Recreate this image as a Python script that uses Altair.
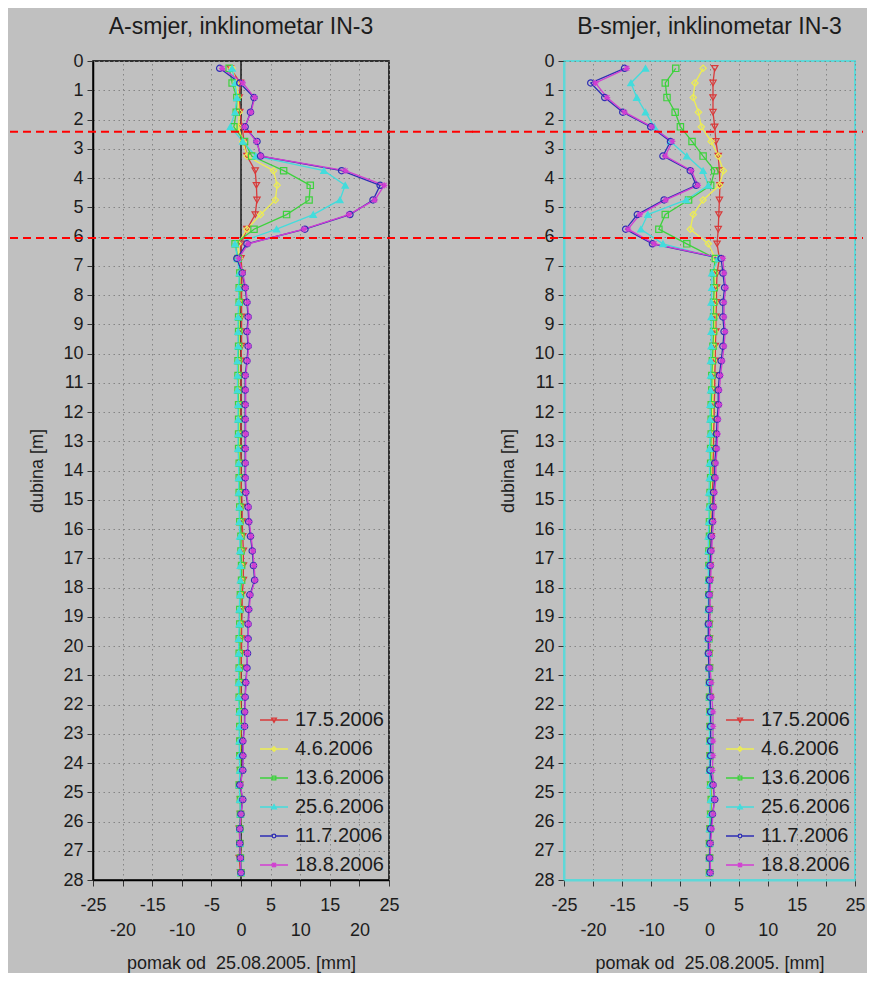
import altair as alt
import pandas as pd

# ---------------- data ----------------
DEPTH = [0.25, 0.75, 1.25, 1.75, 2.25, 2.75, 3.25, 3.75, 4.25, 4.75, 5.25, 5.75, 6.25, 6.75,
         7.25, 7.75, 8.25, 8.75, 9.25, 9.75, 10.25, 10.75, 11.25, 11.75, 12.25, 12.75, 13.25, 13.75,
         14.25, 14.75, 15.25, 15.75, 16.25, 16.75, 17.25, 17.75, 18.25, 18.75, 19.25, 19.75, 20.25, 20.75,
         21.25, 21.75, 22.25, 22.75, 23.25, 23.75, 24.25, 24.75, 25.25, 25.75, 26.25, 26.75, 27.25, 27.75]

SERIES = ["17.5.2006", "4.6.2006", "13.6.2006", "25.6.2006", "11.7.2006", "18.8.2006"]
COLORS = ["#D83A3A", "#EDED52", "#3DD23D", "#43DCDC", "#2E2EB4", "#D23ED2"]
FILLS = ["transparent", "transparent", "transparent", "#43DCDC", "transparent", "transparent"]
MARKERS = ["triangle-down", "diamond", "square", "triangle-up", "circle",
           "M-1,0L1,0M0,-1L0,1M-0.75,-0.75L0.75,0.75M-0.75,0.75L0.75,-0.75"]
LEGEND_MARKERS = [
    "M-1,0L1,0M-0.17,-0.13L0.17,-0.13L0,0.17Z",
    "M-1,0L1,0M0,-0.17L0.17,0L0,0.17L-0.17,0Z",
    "M-1,0L1,0M-0.13,-0.13L0.13,-0.13L0.13,0.13L-0.13,0.13Z",
    "M-1,0L1,0M-0.17,0.13L0.17,0.13L0,-0.17Z",
    "M-1,0L-0.13,0M0.13,0L1,0M0.13,0A0.13,0.13 0 1,1 -0.13,0A0.13,0.13 0 1,1 0.13,0",
    "M-1,0L1,0M-0.15,-0.15L0.15,0.15M-0.15,0.15L0.15,-0.15M0,-0.17L0,0.17",
]
X_TICKS = [-25, -20, -15, -10, -5, 0, 5, 10, 15, 20, 25]
Y_TICKS = list(range(0, 29))
SLIP_DEPTHS = [2.42, 6.05]

# A-smjer (pomak, mm)
A_17_5 = [-1.8, -0.1, -0.3, -0.2, 0.2, 0.5, 1.0, 2.4, 2.6, 2.7, 2.4, 1.0, 0.0, 0.0,
          0.2, 0.1, 0.1, 0.1, 0.1, 0.1, 0.0, 0.0, 0.0, 0.0, 0.0, 0.0, 0.0, 0.0,
          0.0, 0.1, 0.2, 0.2, 0.3, 0.4, 0.4, 0.4, 0.2, 0.2, 0.1, 0.1, 0.1, 0.0,
          0.0, 0.0, 0.0, 0.0, 0.0, -0.1, -0.1, -0.2, -0.1, -0.1, -0.3, -0.2, -0.3, -0.1]
A_4_6 = [-1.5, -0.8, -0.5, -0.3, -0.4, 0.3, 1.0, 5.5, 6.1, 5.8, 3.3, 1.0, -0.5, -0.3,
         -0.1, -0.2, -0.2, -0.3, -0.3, -0.3, -0.4, -0.4, -0.4, -0.3, -0.3, -0.3, -0.3, -0.2,
         -0.2, -0.2, -0.1, -0.1, 0.0, 0.1, 0.1, 0.1, 0.0, -0.1, -0.1, -0.2, -0.2, -0.2,
         -0.2, -0.2, -0.1, -0.1, -0.1, -0.1, -0.1, -0.2, -0.1, 0.0, -0.1, -0.1, 0.0, 0.0]
A_13_6 = [-2.0, -1.5, -0.7, -0.8, -1.2, 0.6, 1.8, 7.2, 11.7, 11.5, 7.7, 2.2, -1.0, -0.5,
          -0.2, -0.3, -0.3, -0.4, -0.4, -0.4, -0.5, -0.5, -0.5, -0.4, -0.4, -0.4, -0.4, -0.3,
          -0.3, -0.3, -0.2, -0.2, 0.0, 0.0, 0.1, 0.1, -0.1, -0.2, -0.2, -0.3, -0.3, -0.3,
          -0.3, -0.3, -0.2, -0.2, -0.2, -0.2, -0.1, -0.3, -0.1, -0.1, -0.2, -0.2, -0.1, 0.0]
A_25_6 = [-1.5, -1.0, -0.7, -1.0, -1.8, 0.3, 2.5, 14.0, 17.6, 16.7, 12.2, 6.0, -1.0, -0.6,
          -0.3, -0.4, -0.4, -0.5, -0.5, -0.5, -0.6, -0.6, -0.6, -0.5, -0.5, -0.5, -0.5, -0.4,
          -0.4, -0.4, -0.3, -0.3, -0.2, -0.2, -0.1, -0.1, -0.2, -0.3, -0.3, -0.4, -0.4, -0.4,
          -0.4, -0.4, -0.3, -0.3, -0.3, -0.3, -0.2, -0.3, -0.2, -0.1, -0.2, -0.2, -0.1, 0.0]
A_11_7 = [-3.6, -0.2, 2.2, 1.6, 0.7, 2.7, 3.3, 17.0, 23.5, 22.3, 18.4, 10.8, 1.0, -0.7,
          0.2, 0.7, 1.0, 1.2, 1.0, 1.2, 1.0, 0.7, 0.7, 0.7, 0.7, 0.7, 0.7, 0.7,
          0.7, 0.8, 1.2, 1.3, 1.6, 1.9, 2.1, 2.3, 1.5, 1.3, 1.2, 1.2, 1.1, 1.0,
          0.8, 0.7, 0.6, 0.6, 0.3, 0.3, 0.3, -0.2, 0.3, 0.0, -0.2, -0.2, -0.1, 0.0]
A_18_8 = [-3.2, 0.3, 2.3, 1.7, 0.6, 2.6, 3.4, 17.6, 24.2, 22.6, 18.2, 10.6, 1.2, -0.4,
          0.3, 0.8, 1.1, 1.3, 1.1, 1.3, 1.1, 0.8, 0.8, 0.8, 0.8, 0.8, 0.8, 0.8,
          0.8, 0.9, 1.3, 1.4, 1.7, 2.0, 2.2, 2.4, 1.6, 1.4, 1.3, 1.2, 1.1, 1.0,
          0.9, 0.7, 0.7, 0.6, 0.4, 0.4, 0.3, -0.1, 0.3, 0.0, -0.2, -0.2, -0.1, 0.0]

# B-smjer (pomak, mm)
B_17_5 = [0.9, 0.6, 0.6, 0.6, 0.9, 1.1, 1.5, 1.7, 1.8, 1.7, 1.6, 1.5, 1.3, 1.7,
          1.3, 1.2, 1.2, 1.1, 1.1, 1.0, 1.0, 0.9, 0.9, 0.8, 0.8, 0.7, 0.7, 0.6,
          0.6, 0.5, 0.5, 0.4, 0.3, 0.2, 0.1, 0.1, 0.0, 0.0, 0.0, 0.0, 0.0, 0.0,
          0.0, 0.1, 0.1, 0.1, 0.1, 0.1, 0.1, 0.2, 0.4, 0.2, 0.1, 0.0, 0.0, 0.0]
B_4_6 = [-1.1, -2.5, -2.8, -1.9, -1.4, 0.3, 1.5, 2.4, 1.7, -1.1, -2.8, -3.3, -0.2, 1.0,
         0.9, 1.0, 0.9, 0.9, 0.9, 0.8, 0.7, 0.6, 0.6, 0.5, 0.5, 0.4, 0.4, 0.3,
         0.3, 0.2, 0.2, 0.1, 0.1, 0.0, 0.0, 0.0, 0.0, -0.1, -0.1, -0.1, 0.0, 0.0,
         0.0, 0.0, 0.1, 0.1, 0.1, 0.1, 0.1, 0.2, 0.3, 0.2, 0.1, 0.0, 0.0, 0.0]
B_13_6 = [-5.8, -7.6, -7.3, -5.9, -5.0, -3.0, -1.1, 0.9, 0.2, -3.6, -7.6, -8.7, -3.9, 1.0,
          0.7, 0.8, 0.7, 0.7, 0.7, 0.6, 0.5, 0.4, 0.4, 0.3, 0.3, 0.3, 0.2, 0.2,
          0.2, 0.1, 0.1, 0.0, 0.0, -0.1, -0.1, -0.1, -0.1, -0.1, -0.1, -0.1, -0.1, 0.0,
          0.0, 0.0, 0.1, 0.1, 0.1, 0.1, 0.1, 0.2, 0.3, 0.2, 0.1, 0.0, 0.0, 0.0]
B_25_6 = [-11.0, -13.5, -12.5, -11.0, -9.5, -6.7, -3.9, -1.1, -0.2, -4.0, -10.6, -11.8, -8.0, 1.5,
          0.4, 0.4, 0.3, 0.3, 0.3, 0.3, 0.2, 0.2, 0.2, 0.1, 0.1, 0.1, 0.0, 0.0,
          0.0, -0.1, -0.1, -0.1, -0.2, -0.2, -0.2, -0.2, -0.2, -0.2, -0.2, -0.2, -0.2, -0.1,
          -0.1, 0.0, 0.0, 0.0, 0.0, 0.0, 0.0, 0.1, 0.2, 0.1, 0.0, 0.0, 0.0, 0.0]
B_11_7 = [-14.6, -20.4, -18.0, -14.9, -10.1, -6.7, -8.0, -3.3, -2.3, -7.8, -12.4, -14.4, -9.8, 2.0,
          2.3, 2.6, 2.3, 2.3, 2.5, 2.3, 2.0, 1.7, 1.5, 1.5, 1.3, 1.2, 1.1, 0.9,
          0.9, 0.7, 0.6, 0.5, 0.3, 0.2, 0.1, 0.0, -0.1, -0.1, -0.2, -0.2, -0.2, -0.1,
          0.0, 0.1, 0.2, 0.2, 0.2, 0.2, 0.1, 0.6, 0.9, 0.5, 0.2, 0.1, 0.0, 0.1]
B_18_8 = [-14.2, -19.6, -17.6, -14.6, -9.9, -6.4, -7.6, -3.1, -2.0, -7.5, -12.0, -14.0, -9.5, 2.3,
          2.5, 2.8, 2.5, 2.5, 2.7, 2.5, 2.2, 1.9, 1.7, 1.7, 1.5, 1.4, 1.3, 1.1,
          1.1, 0.9, 0.8, 0.7, 0.5, 0.4, 0.3, 0.2, 0.1, 0.1, 0.0, 0.0, 0.0, 0.1,
          0.3, 0.4, 0.6, 0.6, 0.6, 0.6, 0.5, 0.7, 0.9, 0.6, 0.4, 0.2, 0.1, 0.2]

A_VALUES = [A_17_5, A_4_6, A_13_6, A_25_6, A_11_7, A_18_8]
B_VALUES = [B_17_5, B_4_6, B_13_6, B_25_6, B_11_7, B_18_8]

# ---------------- styling ----------------
FONT = "Liberation Sans"
TXT = "#1c1c1c"
BG = "#C0C0C0"
PLOT_H = 819


def long_df(values):
    rows = []
    for s, vals in zip(SERIES, values):
        for d, v in zip(DEPTH, vals):
            rows.append({"serija": s, "dubina": d, "pomak": v})
    return pd.DataFrame(rows)


def panel(values, title, frame, frame_w, width, zero_line, rule_x, rule_x2):
    df = long_df(values)
    xenc = alt.X(
        "pomak:Q",
        scale=alt.Scale(domain=[-25, 25], nice=False, zero=False),
        axis=alt.Axis(
            values=X_TICKS,
            labelExpr="abs(datum.value % 10) == 5 ? '' + datum.value : ['', '' + datum.value]",
            labelLineHeight=25, labelFont=FONT, labelFontSize=18, labelColor=TXT,
            labelPadding=10, labelFlush=False, labelOverlap=False,
            tickSize=6, tickColor="#333333", tickWidth=1,
            domainColor=frame, domainWidth=frame_w,
            grid=True, gridColor="#858585", gridDash=[1.5, 3.5], gridWidth=1,
            title="pomak od\u00a0 25.08.2005. [mm]", titleFont=FONT, titleFontSize=18,
            titleFontWeight="normal", titleColor=TXT, titlePadding=15,
        ),
    )
    yenc = alt.Y(
        "dubina:Q",
        scale=alt.Scale(domain=[0, 28], reverse=True, nice=False, zero=False),
        axis=alt.Axis(
            values=Y_TICKS, format="d",
            labelFont=FONT, labelFontSize=18, labelColor=TXT,
            labelPadding=4, labelFlush=False, labelOverlap=False,
            tickSize=6, tickColor="#333333", tickWidth=1,
            domainColor=frame, domainWidth=frame_w,
            grid=True, gridColor="#858585", gridDash=[1.5, 3.5], gridWidth=1,
            title="dubina [m]", titleFont=FONT, titleFontSize=18,
            titleFontWeight="normal", titleColor=TXT, titlePadding=16,
        ),
    )
    base = alt.Chart(df)
    lines = base.mark_line(strokeWidth=1.3).encode(
        x=xenc, y=yenc,
        color=alt.Color("serija:N", scale=alt.Scale(domain=SERIES, range=COLORS), legend=None),
        order=alt.Order("dubina:Q"),
    )
    points = base.mark_point(size=40, strokeWidth=1.2, opacity=1).encode(
        x=xenc, y=yenc,
        color=alt.Color("serija:N", scale=alt.Scale(domain=SERIES, range=COLORS), legend=None),
        shape=alt.Shape("serija:N", scale=alt.Scale(domain=SERIES, range=MARKERS), legend=None),
        fill=alt.Fill("serija:N", scale=alt.Scale(domain=SERIES, range=FILLS), legend=None),
    )
    leg_cfg = dict(
        title=None, orient="bottom-right", offset=5,
        labelFont=FONT, labelFontSize=20, labelColor=TXT, labelOffset=6,
        symbolSize=784, symbolStrokeWidth=1.3, rowPadding=4,
    )
    legend_layer = base.transform_filter("false").mark_point(size=784, strokeWidth=1.3, opacity=1).encode(
        x=xenc, y=yenc,
        color=alt.Color("serija:N", scale=alt.Scale(domain=SERIES, range=COLORS), legend=alt.Legend(**leg_cfg)),
        shape=alt.Shape("serija:N", scale=alt.Scale(domain=SERIES, range=LEGEND_MARKERS), legend=alt.Legend(**leg_cfg)),
        fill=alt.Fill("serija:N", scale=alt.Scale(domain=SERIES, range=FILLS), legend=alt.Legend(**leg_cfg)),
    )
    slip = alt.Chart(pd.DataFrame({"dubina": SLIP_DEPTHS})).mark_rule(
        color="#FF0000", strokeWidth=2, strokeDash=[8, 5]
    ).encode(y=yenc, x=alt.value(rule_x), x2=alt.value(rule_x2))

    layers = []
    if zero_line:
        layers.append(
            alt.Chart(pd.DataFrame({"pomak": [0]})).mark_rule(color="#000000", strokeWidth=1.3).encode(x=xenc)
        )
    layers += [lines, points, legend_layer, slip]
    return alt.layer(*layers).resolve_scale(
        color="independent", shape="independent", fill="independent"
    ).properties(
        width=width, height=PLOT_H,
        title=alt.Title(title, font=FONT, fontSize=23, fontWeight="normal", color=TXT, offset=13, anchor="middle"),
        view=alt.ViewBackground(stroke=frame, strokeWidth=frame_w),
    )


left = panel(A_VALUES, "A-smjer, inklinometar IN-3", "#000000", 1.5, 296, True, -83, 384)
right = panel(B_VALUES, "B-smjer, inklinometar IN-3", "#5ED8D8", 2, 291, False, -92, 299)

chart = alt.hconcat(left, right, spacing=175, bounds="flush").properties(
    background=BG,
    padding={"left": 0, "top": 7, "right": 0, "bottom": 0},
)

chart.save("out.html", embed_options={"renderer": "svg", "actions": False})
